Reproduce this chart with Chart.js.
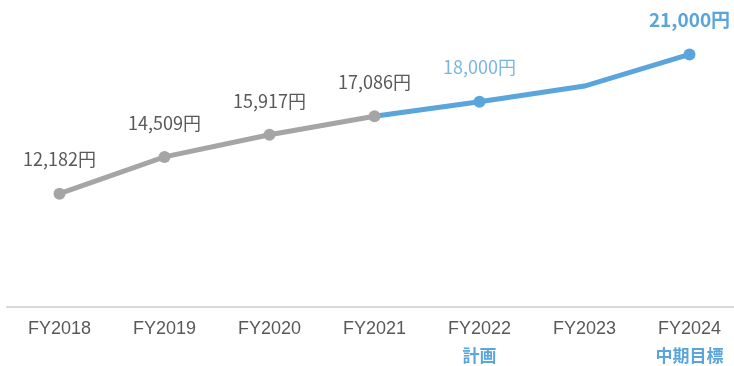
<!DOCTYPE html>
<html>
<head>
<meta charset="utf-8">
<script src="https://cdn.jsdelivr.net/npm/chart.js@4/dist/chart.umd.min.js"></script>
<style>
  html, body { margin: 0; padding: 0; background: #fff; overflow: hidden; }
  #wrap { width: 742px; height: 366px; }
</style>
</head>
<body>
<div id="wrap"><canvas id="c" width="742" height="366"></canvas></div>
<script>
// Fiscal years on the x axis
const years = ['FY2018', 'FY2019', 'FY2020', 'FY2021', 'FY2022', 'FY2023', 'FY2024'];
// Second line under a year label (plan / mid-term target)
const subLabels = ['', '', '', '', '計画', '', '中期目標'];
// Actual results (yen)
const actual = [12182, 14509, 15917, 17086, null, null, null];
// Plan and target path (yen), continuing from the last actual
const plan = [null, null, null, 17086, 18000, 19000, 21000];
// Value labels shown above points
const actualLabels = ['12,182円', '14,509円', '15,917円', '17,086円', '', '', ''];
const planLabels = ['', '', '', '', '18,000円', '', '21,000円'];

const GRAY = '#A5A5A5';
const BLUE = '#5AA5DC';
const LABEL_GRAY = '#595959';

const valueLabelPlugin = {
  id: 'valueLabels',
  afterDatasetsDraw(chart) {
    const ctx = chart.ctx;
    ctx.save();
    ctx.textAlign = 'center';
    ctx.textBaseline = 'middle';
    const a = chart.getDatasetMeta(0).data;
    actualLabels.forEach((t, i) => {
      if (!t) return;
      ctx.font = '18px "Noto Sans CJK JP", sans-serif';
      ctx.fillStyle = LABEL_GRAY;
      ctx.fillText(t, a[i].x, a[i].y - 34);
    });
    const p = chart.getDatasetMeta(1).data;
    planLabels.forEach((t, i) => {
      if (!t) return;
      const last = i === planLabels.length - 1;
      ctx.font = (last ? 'bold 19px' : '18px') + ' "Noto Sans CJK JP", sans-serif';
      ctx.fillStyle = last ? BLUE : '#79B7E3';
      ctx.fillText(t, p[i].x, p[i].y - 35);
    });
    // second line of the year labels
    const xs = chart.scales.x;
    ctx.font = 'bold 17px "Noto Sans CJK JP", sans-serif';
    ctx.fillStyle = BLUE;
    subLabels.forEach((t, i) => {
      if (!t) return;
      ctx.fillText(t, xs.getPixelForValue(i), 356);
    });
    ctx.restore();
  }
};

new Chart(document.getElementById('c'), {
  type: 'line',
  data: {
    labels: years,
    datasets: [
      {
        data: actual,
        borderColor: GRAY,
        backgroundColor: GRAY,
        borderWidth: 5,
        pointRadius: 6,
        pointBorderWidth: 0,
        pointBackgroundColor: GRAY,
        tension: 0,
        spanGaps: false
      },
      {
        data: plan,
        borderColor: BLUE,
        backgroundColor: BLUE,
        borderWidth: 5,
        pointRadius: [0, 0, 0, 0, 6, 0, 6],
        pointBorderWidth: 0,
        pointBackgroundColor: BLUE,
        tension: 0
      }
    ]
  },
  options: {
    responsive: false,
    animation: false,
    events: [],
    layout: { autoPadding: false, padding: { left: 7, right: 0, top: 0, bottom: 0 } },
    plugins: { legend: { display: false }, tooltip: { enabled: false } },
    scales: {
      x: {
        offset: true,
        grid: { display: false, drawTicks: false },
        border: { display: true, color: '#D9D9D9', width: 2 },
        ticks: {
          color: LABEL_GRAY,
          font: { family: '"Liberation Sans", Arial, sans-serif', size: 18 },
          padding: 11,
          maxRotation: 0,
          autoSkip: false
        },
        afterFit(scale) { scale.height = 59; }
      },
      y: {
        display: false,
        min: 5000,
        max: 24450
      }
    }
  },
  plugins: [valueLabelPlugin]
});
</script>
</body>
</html>
